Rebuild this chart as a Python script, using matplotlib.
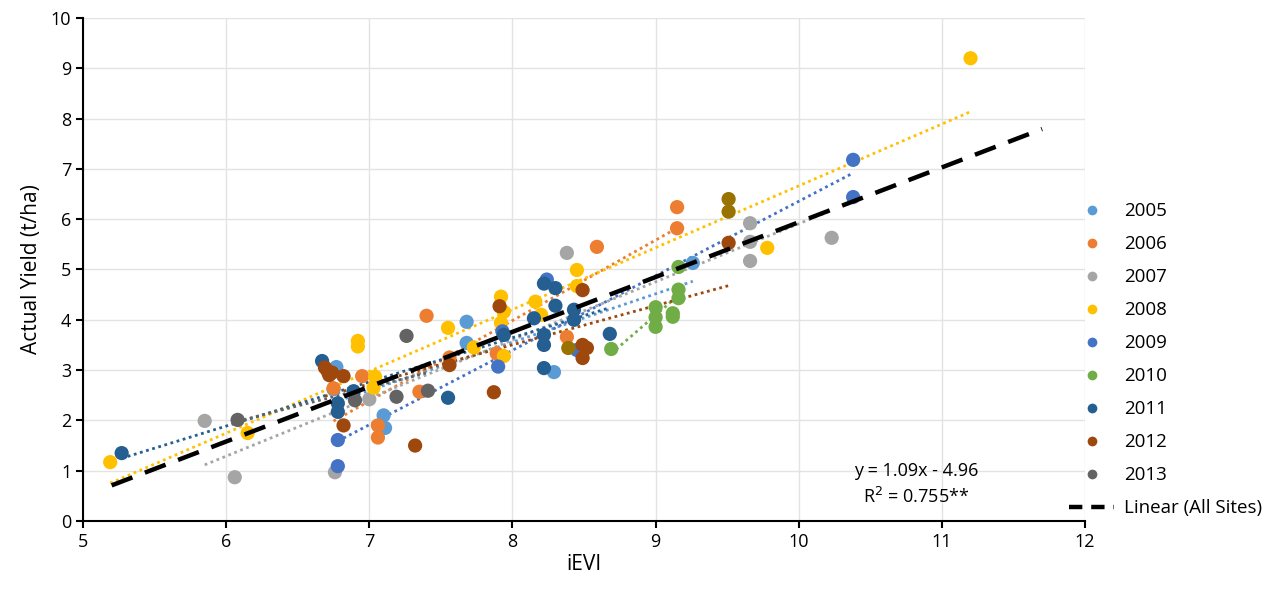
import numpy as np
import matplotlib
matplotlib.use("Agg")
import matplotlib.pyplot as plt
from matplotlib.lines import Line2D

plt.rcParams['font.family'] = ['Open Sans', 'DejaVu Sans']

years = ['2005', '2006', '2007', '2008', '2009', '2010', '2011', '2012', '2013']
colors = ['#5B9BD5', '#ED7D31', '#A5A5A5', '#FFC000', '#4472C4',
          '#70AD47', '#255E91', '#9E480E', '#636363']

# iEVI / yield pairs, one list per year
x2005 = [6.77, 6.75, 7.10, 7.11, 7.68, 7.68, 8.29, 9.26]
y2005 = [3.06, 2.62, 2.10, 1.85, 3.96, 3.54, 2.96, 5.13]

x2006 = [6.75, 6.95, 7.06, 7.06, 7.35, 7.40, 7.56, 7.89, 8.38, 8.59, 9.15, 9.15]
y2006 = [2.64, 2.88, 1.90, 1.66, 2.57, 4.08, 3.25, 3.33, 3.66, 5.45, 6.24, 5.82]

x2007 = [5.85, 6.06, 6.76, 7.00, 8.38, 9.66, 9.66, 9.66, 10.23]
y2007 = [1.99, 0.87, 0.97, 2.42, 5.33, 5.92, 5.55, 5.17, 5.63]

x2008 = [5.19, 6.15, 6.92, 6.92, 7.04, 7.03, 7.55, 7.73, 7.92, 7.94, 7.92,
         7.94, 8.16, 8.20, 8.45, 8.45, 9.78, 11.20]
y2008 = [1.17, 1.75, 3.58, 3.47, 2.87, 2.65, 3.84, 3.45, 4.46, 4.16, 3.94,
         3.28, 4.36, 4.10, 4.99, 4.67, 5.43, 9.20]

x2009 = [6.78, 6.78, 7.90, 7.93, 8.24, 8.45, 10.38, 10.38]
y2009 = [1.61, 1.09, 3.07, 3.77, 4.80, 3.40, 7.18, 6.44]

x2010 = [8.69, 9.00, 9.00, 9.00, 9.12, 9.12, 9.16, 9.16, 9.16]
y2010 = [3.42, 4.25, 4.05, 3.86, 4.13, 4.06, 5.05, 4.60, 4.43]

x2011 = [5.27, 6.67, 6.78, 6.78, 6.89, 7.55, 7.94, 8.15, 8.22, 8.22, 8.22,
         8.22, 8.30, 8.30, 8.43, 8.43, 8.68]
y2011 = [1.35, 3.18, 2.34, 2.17, 2.58, 2.45, 3.70, 4.03, 4.72, 3.70, 3.50,
         3.04, 4.63, 4.28, 4.20, 4.00, 3.72]

x2012 = [6.69, 6.71, 6.72, 6.74, 6.82, 6.82, 7.32, 7.56, 7.87, 7.91, 8.49,
         8.49, 8.52, 8.49, 9.51]
y2012 = [3.05, 2.97, 2.90, 2.95, 2.88, 1.90, 1.50, 3.10, 2.56, 4.27, 4.59,
         3.50, 3.44, 3.24, 5.53]

x2013 = [6.08, 6.90, 7.19, 7.26, 7.41]
y2013 = [2.01, 2.40, 2.47, 3.68, 2.59]

# extra series shown without a legend entry
x_other = [8.39, 9.51, 9.51]
y_other = [3.44, 6.40, 6.15]

xs = [x2005, x2006, x2007, x2008, x2009, x2010, x2011, x2012, x2013]
ys = [y2005, y2006, y2007, y2008, y2009, y2010, y2011, y2012, y2013]

# all-sites regression as printed on the chart
slope, intercept = 1.09, -4.96
fit_range = [5.2, 11.7]

fig = plt.figure(figsize=(12.85, 5.94), dpi=100)
ax = fig.add_axes([0.0646, 0.1229, 0.7798, 0.8468])

for x, y, c in zip(xs, ys, colors):
    x = np.array(x)
    y = np.array(y)
    m, b = np.polyfit(x, y, 1)
    xx = np.array([x.min(), x.max()])
    ax.plot(xx, m * xx + b, color=c, lw=2, linestyle=(0, (1, 1.3)), zorder=3)

for x, y, c in zip(xs, ys, colors):
    ax.scatter(x, y, s=105, color=c, edgecolors='none', zorder=4)
ax.scatter(x_other, y_other, s=105, color='#997300', edgecolors='none', zorder=4)

xl = np.array(fit_range)
ax.plot(xl, slope * xl + intercept, color='black', lw=3.2,
        dashes=(5, 3), zorder=5)

ax.text(10.82, 1.0, 'y = 1.09x - 4.96', ha='center', va='center', fontsize=13)
ax.text(10.82, 0.47, 'R$^2$ = 0.755**', ha='center', va='center', fontsize=13)

ax.set_xlim(5, 12)
ax.set_ylim(0, 10)
ax.set_xticks(range(5, 13))
ax.set_yticks(range(0, 11))
ax.grid(True, color='#E3E3E3', lw=1)
ax.set_axisbelow(True)
for s in ['top', 'right']:
    ax.spines[s].set_visible(False)
for s in ['left', 'bottom']:
    ax.spines[s].set_linewidth(1.5)
ax.tick_params(labelsize=13, length=5, width=1.5)
ax.set_xlabel('iEVI', fontsize=15, labelpad=2)
ax.set_ylabel('Actual Yield (t/ha)', fontsize=15, labelpad=6)

handles = [Line2D([], [], ls='none', marker='o', markersize=7,
                  markerfacecolor=c, markeredgecolor='none') for c in colors]
handles.append(Line2D([], [], color='black', lw=3.2, dashes=(3, 2)))
labels = years + ['Linear (All Sites)']
fig.legend(handles, labels, loc='upper left', bbox_to_anchor=(0.819, 0.688),
           frameon=False, fontsize=13.5, labelspacing=0.8,
           handlelength=2.4, handletextpad=0.5)

fig.savefig('out.png', dpi=100)
